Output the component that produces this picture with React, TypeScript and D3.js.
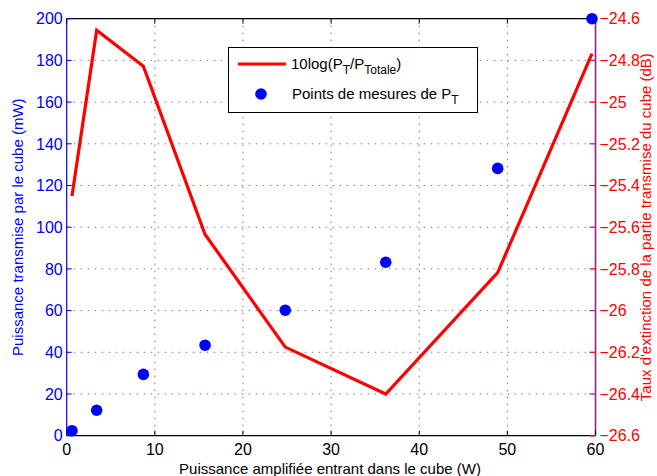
import React from "react";
import * as d3 from "d3";

const powerW = [0.6, 3.4, 8.7, 15.7, 24.8, 36.2, 48.9, 59.6];
const transmittedMW = [2.4, 12.2, 29.4, 43.4, 60.2, 83.2, 128.2, 200];
const extinctionDB = [-25.45, -24.655, -24.828, -25.635, -26.175, -26.4, -25.818, -24.768];
const xTicks = [0, 10, 20, 30, 40, 50, 60];
const leftTicks = [0, 20, 40, 60, 80, 100, 120, 140, 160, 180, 200];
const rightTicks = [-24.6, -24.8, -25, -25.2, -25.4, -25.6, -25.8, -26, -26.2, -26.4, -26.6];

const W = 657, H = 476;
const L = 66.7, R = 595.5, T = 18.7, B = 435.7;
const FONT = "'Liberation Sans', Arial, Helvetica, sans-serif";

export default function App() {
  const x = d3.scaleLinear().domain([0, 60]).range([L, R]);
  const yL = d3.scaleLinear().domain([0, 200]).range([B, T]);
  const yR = d3.scaleLinear().domain([-26.6, -24.6]).range([B, T]);
  const line = d3.line<number>().x((_, i) => x(powerW[i])).y((d) => yR(d));
  const fmtR = (v: number) => d3.format(".1~f")(v).replace("-", "\u2212");
  const fs = 16;

  return (
    <svg width={W} height={H} style={{ position: "absolute", left: 0, top: 0, background: "#fff" }} fontFamily={FONT}>
      <rect x={0} y={0} width={W} height={H} fill="#fff" />
      {/* grid */}
      {xTicks.slice(1, -1).map((t) => (
        <line key={"gx" + t} x1={x(t)} x2={x(t)} y1={T} y2={B} stroke="#777" strokeWidth={1} strokeDasharray="1.5,5.5" />
      ))}
      {leftTicks.slice(1, -1).map((t) => (
        <line key={"gy" + t} x1={L} x2={R} y1={yL(t)} y2={yL(t)} stroke="#6a6aff" strokeWidth={1} strokeDasharray="1.5,5.5" />
      ))}
      {/* frame */}
      <line x1={L} x2={R} y1={T} y2={T} stroke="#000" strokeWidth={1.2} />
      <line x1={L} x2={R} y1={B} y2={B} stroke="#000" strokeWidth={1.2} />
      <line x1={L} x2={L} y1={T} y2={B} stroke="#0000ff" strokeWidth={1.2} />
      <line x1={R} x2={R} y1={T} y2={B} stroke="#931f83" strokeWidth={1.6} />
      {/* x ticks */}
      {xTicks.map((t) => (
        <g key={"xt" + t}>
          <line x1={x(t)} x2={x(t)} y1={B} y2={B - 5} stroke="#000" />
          <line x1={x(t)} x2={x(t)} y1={T} y2={T + 5} stroke="#000" />
          <text x={x(t)} y={B + 19} textAnchor="middle" fontSize={fs} fill="#000">{t}</text>
        </g>
      ))}
      {/* left ticks */}
      {leftTicks.map((t) => (
        <g key={"lt" + t}>
          <line x1={L} x2={L + 5} y1={yL(t)} y2={yL(t)} stroke="#0000ff" />
          <text x={L - 4} y={yL(t)} dy="0.36em" textAnchor="end" fontSize={fs} fill="#0000ff">{t}</text>
        </g>
      ))}
      {/* right ticks */}
      {rightTicks.map((t, i) => (
        <g key={"rt" + i}>
          <line x1={R - 6} x2={R} y1={yR(t)} y2={yR(t)} stroke={i % 2 === 0 ? "#ff0000" : "#b0207a"} strokeWidth={1.2} />
          <text x={R + 4} y={yR(t)} dy="0.36em" textAnchor="start" fontSize={fs} fill="#ff0000">{fmtR(t)}</text>
        </g>
      ))}
      {/* data */}
      <path d={line(extinctionDB) || ""} fill="none" stroke="#ff0000" strokeWidth={3.2} strokeLinejoin="miter" />
      {transmittedMW.map((v, i) => (
        <circle key={"p" + i} cx={x(powerW[i])} cy={yL(v)} r={5.8} fill="#0000ff" />
      ))}
      {/* axis labels */}
      <text x={330} y={474} textAnchor="middle" fontSize={15} fill="#000">
        Puissance amplifiée entrant dans le cube (W)
      </text>
      <text transform={`translate(23,${(T + B) / 2}) rotate(-90)`} textAnchor="middle" fontSize={15} fill="#0000ff">
        Puissance transmise par le cube (mW)
      </text>
      <text transform={`translate(651,${(T + B) / 2}) rotate(-90)`} textAnchor="middle" fontSize={15} fill="#ff0000">
        Taux d'extinction de la partie transmise du cube (dB)
      </text>
      {/* legend */}
      <rect x={228.5} y={47.5} width={249} height={65} fill="#fff" stroke="#000" strokeWidth={1} />
      <line x1={238} x2={286} y1={64} y2={64} stroke="#ff0000" strokeWidth={3.2} />
      <text x={291} y={69} fontSize={15} fill="#000">
        10log(P<tspan fontSize={12} dy={5}>T</tspan><tspan dy={-5}>/P</tspan><tspan fontSize={12} dy={5}>Totale</tspan><tspan dy={-5}>)</tspan>
      </text>
      <circle cx={261} cy={94} r={5.8} fill="#0000ff" />
      <text x={292} y={99} fontSize={15} fill="#000">
        Points de mesures de P<tspan fontSize={12} dy={5}>T</tspan>
      </text>
    </svg>
  );
}
